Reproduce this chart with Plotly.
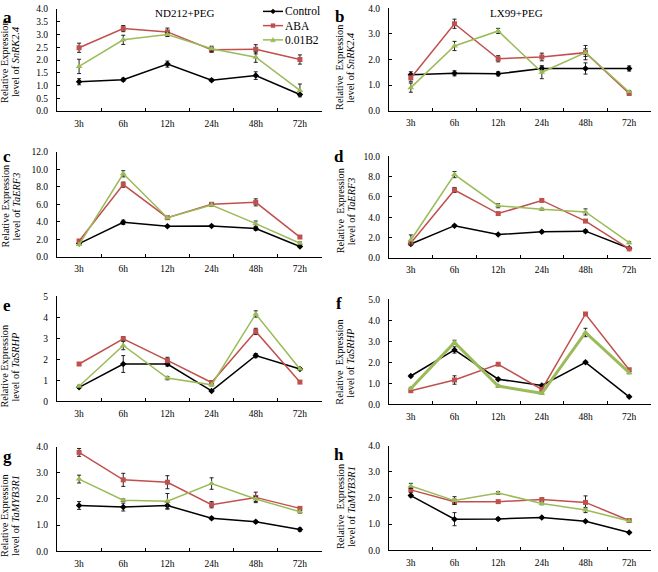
import plotly.graph_objects as go

times = ["3h", "6h", "12h", "24h", "48h", "72h"]
series_names = ["Control", "ABA", "0.01B2"]

# Panel a: SnRK2.4, ND212+PEG
a_control = [1.15, 1.23, 1.84, 1.21, 1.39, 0.65]
a_control_err = [0.12, 0.06, 0.12, 0.05, 0.15, 0.04]
a_aba = [2.48, 3.23, 3.10, 2.40, 2.42, 2.02]
a_aba_err = [0.18, 0.12, 0.15, 0.10, 0.18, 0.18]
a_b2 = [1.75, 2.79, 3.00, 2.44, 2.11, 0.81]
a_b2_err = [0.28, 0.18, 0.08, 0.10, 0.20, 0.25]

# Panel b: SnRK2.4, LX99+PEG
b_control = [1.40, 1.46, 1.44, 1.65, 1.65, 1.65]
b_control_err = [0.12, 0.10, 0.08, 0.10, 0.22, 0.10]
b_aba = [1.28, 3.40, 2.03, 2.10, 2.27, 0.67]
b_aba_err = [0.15, 0.18, 0.12, 0.15, 0.15, 0.05]
b_b2 = [0.90, 2.53, 3.12, 1.50, 2.27, 0.73]
b_b2_err = [0.18, 0.18, 0.10, 0.25, 0.28, 0.05]

# Panel c: TaERF3, ND212+PEG
c_control = [1.53, 3.96, 3.51, 3.55, 3.25, 1.20]
c_control_err = [0.15, 0.25, 0.10, 0.10, 0.20, 0.10]
c_aba = [1.83, 8.26, 4.49, 6.02, 6.24, 2.28]
c_aba_err = [0.15, 0.30, 0.15, 0.15, 0.40, 0.15]
c_b2 = [1.42, 9.50, 4.49, 5.94, 3.81, 1.57]
c_b2_err = [0.10, 0.35, 0.10, 0.10, 0.30, 0.15]

# Panel d: TaERF3, LX99+PEG
d_control = [1.38, 3.18, 2.31, 2.57, 2.64, 0.96]
d_control_err = [0.10, 0.10, 0.10, 0.10, 0.15, 0.05]
d_aba = [1.48, 6.69, 4.37, 5.66, 3.63, 0.90]
d_aba_err = [0.10, 0.25, 0.10, 0.10, 0.10, 0.05]
d_b2 = [1.77, 8.20, 5.14, 4.79, 4.53, 1.51]
d_b2_err = [0.50, 0.30, 0.20, 0.10, 0.30, 0.10]

# Panel e: TaSRHP, ND212+PEG
e_control = [0.67, 1.78, 1.78, 0.50, 2.18, 1.54]
e_control_err = [0.05, 0.40, 0.10, 0.03, 0.10, 0.05]
e_aba = [1.78, 2.98, 1.95, 0.90, 3.33, 0.92]
e_aba_err = [0.05, 0.10, 0.15, 0.05, 0.15, 0.05]
e_b2 = [0.72, 2.66, 1.11, 0.79, 4.16, 1.54]
e_b2_err = [0.05, 0.20, 0.08, 0.05, 0.15, 0.05]

# Panel f: TaSRHP, LX99+PEG
f_control = [1.35, 2.59, 1.20, 0.90, 2.00, 0.36]
f_control_err = [0.05, 0.15, 0.05, 0.05, 0.05, 0.03]
f_aba = [0.65, 1.16, 1.91, 0.71, 4.30, 1.65]
f_aba_err = [0.05, 0.20, 0.05, 0.05, 0.05, 0.05]
f_b2 = [0.76, 2.95, 0.87, 0.53, 3.42, 1.51]
f_b2_err = [0.05, 0.10, 0.05, 0.05, 0.20, 0.05]

# Panel g: TaMYB3R1, ND212+PEG
g_control = [1.75, 1.69, 1.75, 1.26, 1.13, 0.83]
g_control_err = [0.15, 0.15, 0.12, 0.05, 0.05, 0.06]
g_aba = [3.78, 2.73, 2.64, 1.78, 2.06, 1.64]
g_aba_err = [0.15, 0.25, 0.25, 0.12, 0.20, 0.05]
g_b2 = [2.76, 1.95, 1.91, 2.59, 2.00, 1.51]
g_b2_err = [0.15, 0.05, 0.30, 0.22, 0.10, 0.05]

# Panel h: TaMYB3R1, LX99+PEG
h_control = [2.09, 1.19, 1.20, 1.25, 1.11, 0.68]
h_control_err = [0.05, 0.25, 0.05, 0.03, 0.03, 0.03]
h_aba = [2.31, 1.86, 1.86, 1.94, 1.83, 1.14]
h_aba_err = [0.10, 0.10, 0.05, 0.05, 0.25, 0.03]
h_b2 = [2.46, 1.90, 2.19, 1.79, 1.54, 1.12]
h_b2_err = [0.10, 0.15, 0.05, 0.05, 0.10, 0.03]

W, H = 658, 572
FONT = "Liberation Serif"
COLORS = ["#000000", "#c0504d", "#9bbb59"]
SYMBOLS = ["diamond", "square", "triangle-up"]


def px(x):
    return x / W


def py(y):
    return 1 - y / H


panels = [
    ("a", "SnRK2.4", [(a_control, a_control_err), (a_aba, a_aba_err), (a_b2, a_b2_err)], 4.0, 0.5, ".1f", (57, 322), (4, 108), 58, 1.5),
    ("b", "SnRK2.4", [(b_control, b_control_err), (b_aba, b_aba_err), (b_b2, b_b2_err)], 4.0, 1.0, ".1f", (389, 651), (3.5, 107.5), 64, 1.5),
    ("c", "TaERF3", [(c_control, c_control_err), (c_aba, c_aba_err), (c_b2, c_b2_err)], 12.0, 2.0, ".1f", (57, 322), (149.5, 256.5), 205, 1.5),
    ("d", "TaERF3", [(d_control, d_control_err), (d_aba, d_aba_err), (d_b2, d_b2_err)], 10.0, 2.0, ".1f", (389, 651), (154, 257.5), 210, 1.5),
    ("e", "TaSRHP", [(e_control, e_control_err), (e_aba, e_aba_err), (e_b2, e_b2_err)], 5.0, 1.0, "d", (57, 322), (296.5, 403.5), 368, 1.5),
    ("f", "TaSRHP", [(f_control, f_control_err), (f_aba, f_aba_err), (f_b2, f_b2_err)], 5.0, 1.0, ".1f", (389, 651), (299.5, 406.5), 364, 3.0),
    ("g", "TaMYB3R1", [(g_control, g_control_err), (g_aba, g_aba_err), (g_b2, g_b2_err)], 4.0, 1.0, ".1f", (57, 322), (449.5, 556), 520, 1.5),
    ("h", "TaMYB3R1", [(h_control, h_control_err), (h_aba, h_aba_err), (h_b2, h_b2_err)], 4.0, 1.0, ".1f", (389, 651), (448.5, 555), 511, 1.5),
]

fig = go.Figure()
layout = {}
annotations = []
shapes = []

letter_pos = {"a": (7, 13), "b": (339, 12), "c": (7, 154), "d": (339, 154),
              "e": (7, 306), "f": (339, 304), "g": (7, 460), "h": (339, 458)}

for i, (letter, gene, data, ymax, dtick, fmt, (xl, xr), (yt, yb), tcy, gw) in enumerate(panels):
    n = i + 1
    xa = "x" if n == 1 else f"x{n}"
    ya = "y" if n == 1 else f"y{n}"
    for s, (vals, errs) in enumerate(data):
        fig.add_trace(go.Scatter(
            x=times, y=vals, xaxis=xa, yaxis=ya,
            mode="lines+markers", name=series_names[s],
            showlegend=False,
            line=dict(color=COLORS[s], width=(gw if s == 2 else 1.5)),
            marker=dict(symbol=SYMBOLS[s], size=5 if s != 2 else 6, color=COLORS[s]),
            error_y=dict(type="data", array=errs, visible=True, color="#222222",
                         thickness=1, width=2),
            cliponaxis=False,
        ))
    xkey = "xaxis" if n == 1 else f"xaxis{n}"
    ykey = "yaxis" if n == 1 else f"yaxis{n}"
    layout[xkey] = dict(
        domain=[px(xl), px(xr)], anchor=ya, type="category",
        categoryorder="array", categoryarray=times, range=[-0.5, 5.5],
        showline=True, linecolor="#000000", linewidth=1,
        ticks="inside", tickson="boundaries", ticklen=3, tickcolor="#000000",
        ticklabelstandoff=3,
        showgrid=False, zeroline=False,
        tickfont=dict(family=FONT, size=9.5, color="#000000"),
    )
    layout[ykey] = dict(
        domain=[py(yb), py(yt)], anchor=xa, range=[0, ymax],
        dtick=dtick, tick0=0, tickformat=fmt,
        showline=True, linecolor="#000000", linewidth=1,
        ticks="inside", ticklen=3, tickcolor="#000000",
        ticklabelstandoff=6,
        showgrid=False, zeroline=False,
        tickfont=dict(family=FONT, size=9.5, color="#000000"),
    )
    left = xl < 100
    x1 = 5 if left else 340
    x2 = 16 if left else 351
    line1 = "Relative Expression" if left else "Relative  Expression"
    annotations.append(dict(x=px(x1), y=py(tcy), xref="paper", yref="paper",
                            text=line1, textangle=-90, showarrow=False,
                            font=dict(family=FONT, size=10.3, color="#000000"),
                            xanchor="center", yanchor="middle"))
    annotations.append(dict(x=px(x2), y=py(tcy), xref="paper", yref="paper",
                            text=f"level of <i>{gene}</i>", textangle=-90, showarrow=False,
                            font=dict(family=FONT, size=10.3, color="#000000"),
                            xanchor="center", yanchor="middle"))
    lx, ly = letter_pos[letter]
    annotations.append(dict(x=px(lx), y=py(ly), xref="paper", yref="paper",
                            text=f"<b>{letter}</b>", showarrow=False,
                            font=dict(family=FONT, size=17, color="#000000"),
                            xanchor="center", yanchor="middle"))

annotations.append(dict(x=px(184), y=py(8), xref="paper", yref="paper",
                        text="ND212+PEG", showarrow=False,
                        font=dict(family=FONT, size=11, color="#000000"),
                        xanchor="center", yanchor="middle"))
annotations.append(dict(x=px(516), y=py(8), xref="paper", yref="paper",
                        text="LX99+PEG", showarrow=False,
                        font=dict(family=FONT, size=11, color="#000000"),
                        xanchor="center", yanchor="middle"))

# Legend key in the top-right of panel a
leg_x0, leg_x1, leg_tx = 263, 283, 283
leg_ys = [6.5, 21, 35.5]
for s, name in enumerate(series_names):
    yy = leg_ys[s]
    shapes.append(dict(type="line", xref="paper", yref="paper",
                       x0=px(leg_x0), x1=px(leg_x1), y0=py(yy), y1=py(yy),
                       line=dict(color=COLORS[s], width=1.5)))
    cx = (leg_x0 + leg_x1) / 2
    if s == 0:
        path = (f"M {px(cx - 2.5)} {py(yy)} L {px(cx)} {py(yy - 2.5)} "
                f"L {px(cx + 2.5)} {py(yy)} L {px(cx)} {py(yy + 2.5)} Z")
    elif s == 1:
        path = (f"M {px(cx - 2)} {py(yy - 2)} L {px(cx + 2)} {py(yy - 2)} "
                f"L {px(cx + 2)} {py(yy + 2)} L {px(cx - 2)} {py(yy + 2)} Z")
    else:
        path = (f"M {px(cx - 2.5)} {py(yy + 2)} L {px(cx + 2.5)} {py(yy + 2)} "
                f"L {px(cx)} {py(yy - 2.5)} Z")
    shapes.append(dict(type="path", xref="paper", yref="paper", path=path,
                       fillcolor=COLORS[s], line=dict(color=COLORS[s], width=0.5)))
    annotations.append(dict(x=px(leg_tx), y=py(yy), xref="paper", yref="paper",
                            text=name, showarrow=False,
                            font=dict(family=FONT, size=11.5, color="#000000"),
                            xanchor="left", yanchor="middle"))

fig.update_layout(
    width=W, height=H,
    margin=dict(l=0, r=0, t=0, b=0),
    paper_bgcolor="white", plot_bgcolor="white",
    font=dict(family=FONT, size=10, color="#000000"),
    showlegend=False,
    annotations=annotations,
    shapes=shapes,
    **layout,
)

fig.write_html(
    "out.html",
    config={"displayModeBar": False},
    post_script="document.body.style.margin='0';document.body.style.overflow='hidden';",
)
